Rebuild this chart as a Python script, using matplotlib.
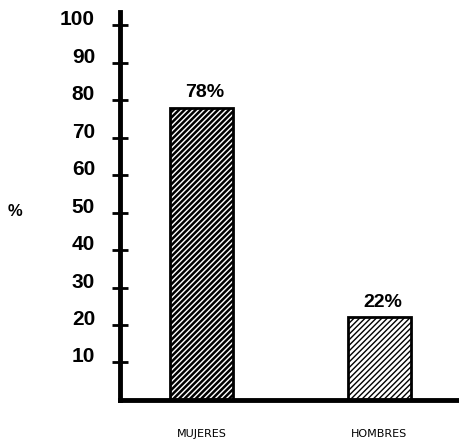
import matplotlib.pyplot as plt

# Datos
categorias = ['MUJERES', 'HOMBRES']
porcentajes = [78, 22]
etiquetas = ['78%', '22%']
ticks_y = [10, 20, 30, 40, 50, 60, 70, 80, 90, 100]

plt.rcParams['font.family'] = ['Liberation Sans', 'DejaVu Sans']

fig = plt.figure(figsize=(4.6, 4.41), dpi=100)
ax = fig.add_axes([0.261, 0.093, 0.739, 0.88])

hatches = ['//////', '//////']
grosor = [1.8, 1.0]
x = list(range(len(categorias)))
for i in x:
    plt.rcParams['hatch.linewidth'] = grosor[i]
    ax.bar(x[i], porcentajes[i], width=0.355, color='white', edgecolor='black',
           hatch=hatches[i], linewidth=2)
    ax.text(x[i] + 0.02, porcentajes[i] + 1.8, etiquetas[i], ha='center', va='bottom',
            fontsize=14, fontweight='bold')

ax.set_xlim(-0.459, 1.456)
ax.set_ylim(0, 103.5)
ax.set_xticks(x)
ax.set_xticklabels(categorias, fontsize=8, family='DejaVu Sans')
ax.set_yticks(ticks_y)
ax.set_yticklabels([str(t) for t in ticks_y], fontsize=15, fontweight='bold')
for t in ax.get_yticklabels():
    t.set_va('baseline')
ax.tick_params(axis='x', length=0, pad=21)
ax.tick_params(axis='y', direction='inout', length=12, width=2, pad=12)

for lado in ['top', 'right']:
    ax.spines[lado].set_visible(False)
ax.spines['left'].set_linewidth(3.5)
ax.spines['bottom'].set_linewidth(3.5)

fig.text(15 / 460, 1 - 212 / 441, '%', ha='center', va='center',
         fontsize=12, fontweight='bold')

fig.savefig('out.png', dpi=100)
